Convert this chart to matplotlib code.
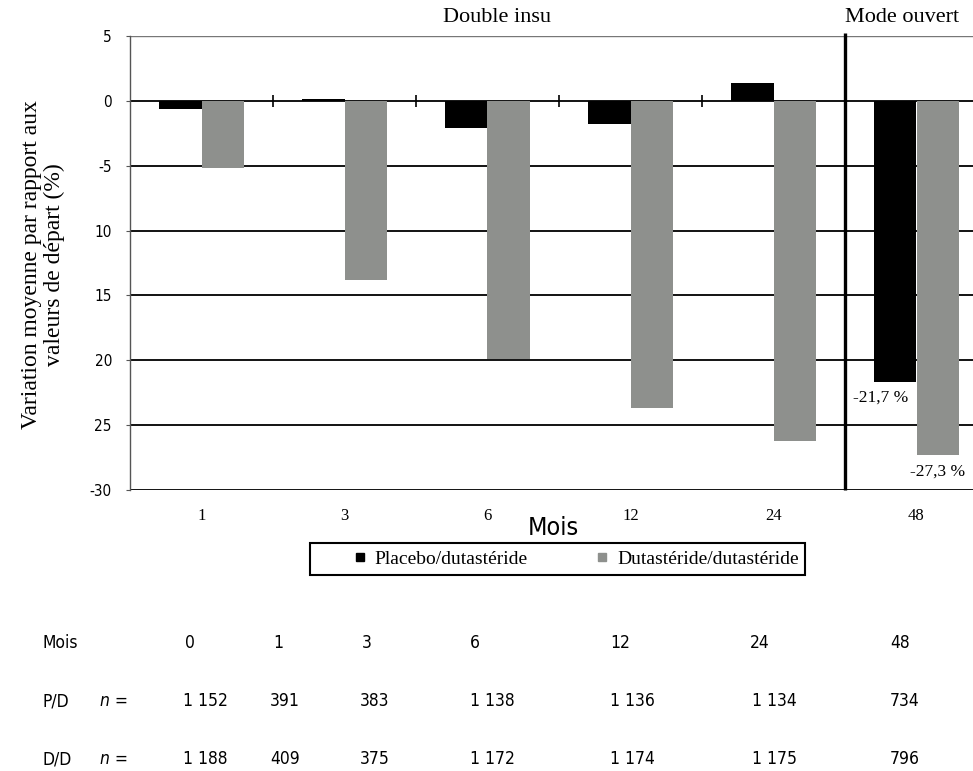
import matplotlib
matplotlib.use("Agg")
import matplotlib.pyplot as plt
from matplotlib.lines import Line2D
from matplotlib.patches import Rectangle

# Data
mois = ["1", "3", "6", "12", "24", "48"]
placebo = [-0.6, 0.15, -2.1, -1.8, 1.4, -21.7]
dutasteride = [-5.2, -13.8, -19.9, -23.7, -26.2, -27.3]
yticks = [-30, -25, -20, -15, -10, -5, 0, 5]
ytick_labels = ["-30", "25", "20", "15", "10", "-5", "0", "5"]

table_header = ["0", "1", "3", "6", "12", "24", "48"]
n_pd = ["1 152", "391", "383", "1 138", "1 136", "1 134", "734"]
n_dd = ["1 188", "409", "375", "1 172", "1 174", "1 175", "796"]

BLACK = "#000000"
GREY = "#8e908d"
SERIF = ["Liberation Serif", "DejaVu Serif"]
NARROW = ["DejaVu Sans Condensed", "DejaVu Sans"]

W, H = 973, 771
fig = plt.figure(figsize=(W / 100, H / 100), dpi=100)

def px(x, y):
    # pixel position (from top-left) -> figure fraction
    return x / W, 1 - y / H

# axes run past the right edge of the figure, like the cropped original
ax = fig.add_axes([130 / W, 1 - 490 / H, 858 / W, 454 / H])
ax.set_xlim(-0.5, 5.5)
ax.set_ylim(-30, 5)

xs = range(len(mois))
w = 0.294
ax.bar([x - w / 2 for x in xs], placebo, w, color=BLACK, zorder=3)
ax.bar([x + w / 2 for x in xs], dutasteride, w, color=GREY, zorder=3)

# horizontal lines
for y in yticks:
    if y == 5:
        ax.axhline(y, color="#777777", lw=1.0, zorder=1)
    else:
        ax.axhline(y, color=BLACK, lw=1.3, zorder=1)

# small ticks on the zero line between the groups
ax.vlines([0.5, 1.5, 2.5, 3.5], -0.45, 0.45, color=BLACK, lw=1.2, zorder=2)
# separator between double blind and open label
ax.vlines(4.5, -30, 5.2, color=BLACK, lw=2.4, zorder=4, clip_on=False)

for s in ["top", "right", "bottom"]:
    ax.spines[s].set_visible(False)
ax.spines["left"].set_color("#555555")
ax.spines["left"].set_linewidth(1.0)

ax.set_yticks(yticks)
ax.set_yticklabels(ytick_labels, family=NARROW, stretch="condensed", fontsize=11)
ax.tick_params(axis="y", length=3, pad=10, color="#555555")
ax.set_xticks(list(xs))
ax.set_xticklabels(mois, family=SERIF, fontsize=12)
ax.tick_params(axis="x", length=0, pad=13)

# value labels at 48 months
ax.annotate("-21,7 %", (5 - w / 2, placebo[5]), xytext=(-15, -15),
            textcoords="offset pixels", ha="center", va="center",
            family=SERIF, fontsize=12.5)
ax.annotate("-27,3 %", (5 + w / 2, dutasteride[5]), xytext=(0, -17),
            textcoords="offset pixels", ha="center", va="center",
            family=SERIF, fontsize=12.5)

fig.text(*px(497, 18), "Double insu", family=SERIF, fontsize=16,
         ha="center", va="center")
fig.text(*px(902, 18), "Mode ouvert", family=SERIF, fontsize=16,
         ha="center", va="center")
fig.text(*px(43, 265), "Variation moyenne par rapport aux\nvaleurs de départ (%)",
         family=SERIF, fontsize=17, rotation=90, ha="center", va="center",
         linespacing=1.15)
fig.text(*px(553, 528), "Mois", family=NARROW, stretch="condensed",
         fontsize=18, ha="center", va="center")

# legend with its own box (box is wider on the left, as in the original)
fig.patches.append(Rectangle(px(310, 575), 495 / W, 32 / H, transform=fig.transFigure,
                             fill=False, edgecolor=BLACK, lw=1.5))
handles = [Line2D([], [], marker="s", ls="none", color=BLACK, markersize=5.5),
           Line2D([], [], marker="s", ls="none", color=GREY, markersize=5.5)]
fig.legend(handles, ["Placebo/dutastéride", "Dutastéride/dutastéride"],
           loc="center left", bbox_to_anchor=px(355, 559), ncol=2,
           prop={"family": SERIF, "size": 14}, frameon=False,
           handlelength=0.5, handletextpad=0.5, columnspacing=3.6,
           borderpad=0, borderaxespad=0)

# sample size table below the chart
col_x = [183, 270, 360, 470, 610, 752, 890]
head_x = [185, 273, 362, 470, 610, 750, 890]
row_y = [643, 701, 759]
tkw = dict(family=NARROW, stretch="condensed", fontsize=12.5, va="center", ha="left")
fig.text(*px(43, row_y[0]), "Mois", **tkw)
fig.text(*px(43, row_y[1]), "P/D", **tkw)
fig.text(*px(43, row_y[2]), "D/D", **tkw)
fig.text(*px(100, row_y[1]), "n =", style="italic", **tkw)
fig.text(*px(100, row_y[2]), "n =", style="italic", **tkw)
for i in range(len(table_header)):
    fig.text(*px(head_x[i], row_y[0]), table_header[i], **tkw)
    fig.text(*px(col_x[i], row_y[1]), n_pd[i], **tkw)
    fig.text(*px(col_x[i], row_y[2]), n_dd[i], **tkw)

fig.savefig("out.png", dpi=100)
